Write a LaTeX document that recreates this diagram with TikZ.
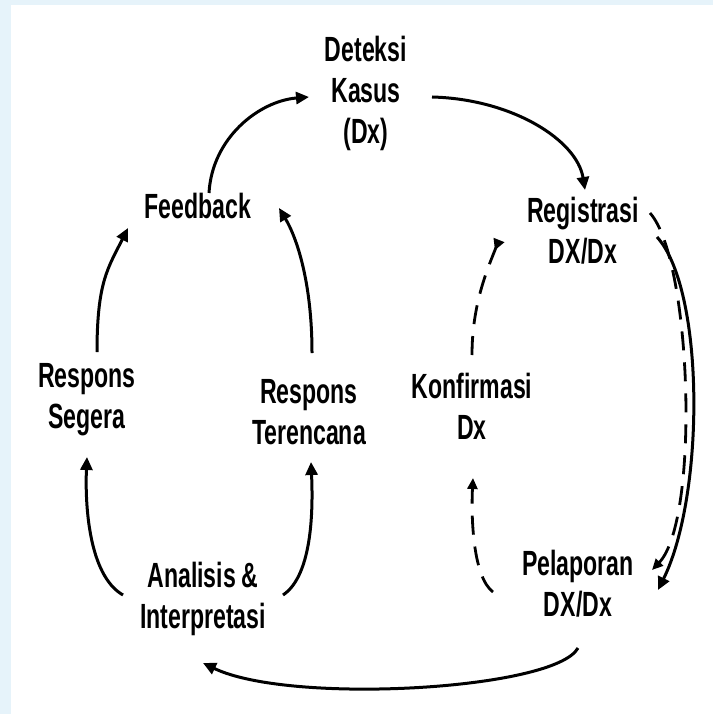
\documentclass[tikz,border=0pt]{standalone}
\usepackage{fontspec}
\setmainfont{Liberation Sans}[FakeStretch=0.66]
\usetikzlibrary{arrows.meta}
\definecolor{bgblue}{RGB}{230,243,250}
\newcommand{\mylines}[1]{\begin{tabular}[t]{@{}c@{}}#1\end{tabular}}
\begin{document}
\begin{tikzpicture}[x=1pt,y=-1pt,
  lbl/.style={font=\bfseries\fontsize{35}{41}\selectfont, inner sep=0pt, anchor=base},
  solidarrow/.style={line width=3pt, -{Triangle[length=13pt,width=12pt]}},
  dasharrow/.style={line width=2.8pt, dash pattern=on 19pt off 12pt, -{Triangle[length=11pt,width=10pt]}},
  revdasharrow/.style={line width=2.8pt, dash pattern=on 19pt off 12pt, -{Triangle[reversed,length=11pt,width=11pt]}}]
\useasboundingbox (0,0) rectangle (713,714);
\fill[bgblue] (0,0) rectangle (713,714);
\fill[white] (11,5) rectangle (713,714);

\node[lbl] (det)  at (366,62)  {\mylines{Deteksi\\Kasus\\(Dx)}};
\node[lbl] (feed) at (198,218) {\mylines{Feedback}};
\node[lbl] (reg)  at (583,222) {\mylines{Registrasi\\DX/Dx}};
\node[lbl] (rseg) at (87,387)  {\mylines{Respons\\Segera}};
\node[lbl] (rter) at (309,403) {\mylines{Respons\\Terencana}};
\node[lbl] (konf) at (472,398) {\mylines{Konfirmasi\\Dx}};
\node[lbl] (anal) at (203,587) {\mylines{Analisis\,\&\\Interpretasi}};
\node[lbl] (pel)  at (578,575) {\mylines{Pelaporan\\DX/Dx}};

\draw[solidarrow] ([shift={(11,-25)}]feed.base) .. controls +(3,-55) and +(-50,4) .. ([shift={(-57,35)}]det.base);
\draw[solidarrow] ([shift={(66,35)}]det.base) .. controls +(80,2) and +(-8,-50) .. ([shift={(2,-32)}]reg.base);
\draw[solidarrow] ([shift={(10,-35)}]rseg.base) .. controls +(0,-70) and +(-20,40) .. ([shift={(-70,10)}]feed.base);
\draw[solidarrow] ([shift={(3,-50)}]rter.base) .. controls +(0,-70) and +(18,30) .. ([shift={(81,-10)}]feed.base);
\draw[solidarrow] ([shift={(-80,8)}]anal.base) .. controls +(-35,-20) and +(-2,45) .. ([shift={(0,70)}]rseg.base);
\draw[solidarrow] ([shift={(80,8)}]anal.base) .. controls +(30,-20) and +(2,45) .. ([shift={(2,59)}]rter.base);
\draw[solidarrow] ([shift={(0,73)}]pel.base) .. controls +(-23,42) and +(87,42) .. ([shift={(0,76)}]anal.base);
\draw[solidarrow] ([shift={(74,15)}]reg.base) .. controls +(48,53) and +(47,-95) .. ([shift={(80,15)}]pel.base);
\draw[dasharrow] ([shift={(67,-9)}]reg.base) .. controls +(42,47) and +(48,-50) .. ([shift={(74,-5)}]pel.base);
\draw[dasharrow] ([shift={(-85,17)}]pel.base) .. controls +(-20,-15) and +(-2,40) .. ([shift={(1,80)}]konf.base);
\draw[revdasharrow] ([shift={(0,-43)}]konf.base) .. controls +(0,-50) and +(-12,30) .. ([shift={(-84,18)}]reg.base);
\end{tikzpicture}
\end{document}
